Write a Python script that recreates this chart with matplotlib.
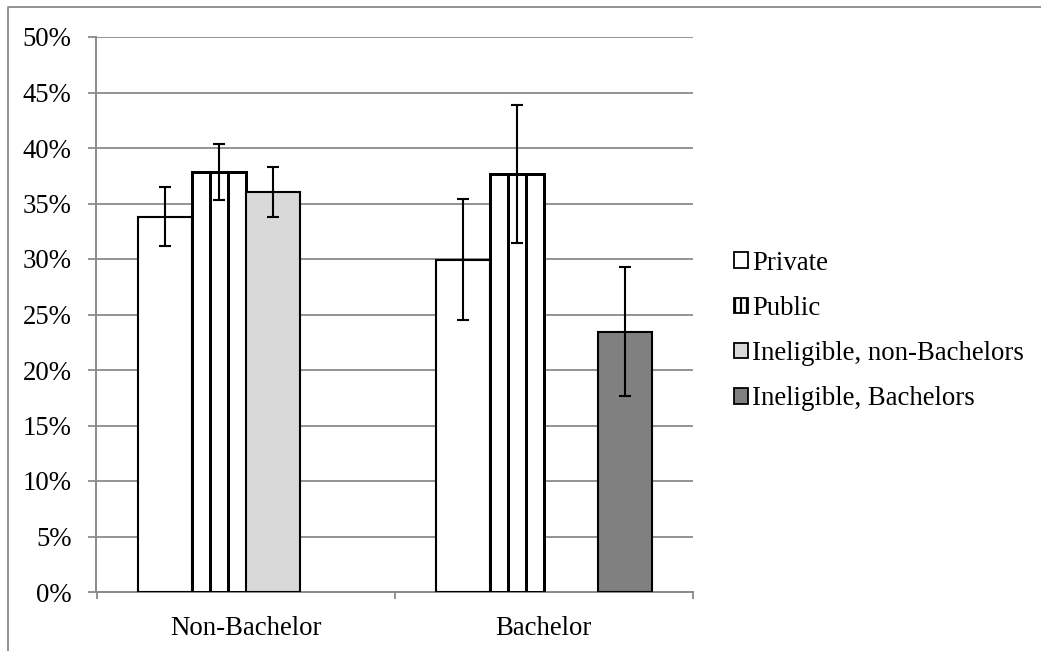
import numpy as np
import matplotlib
matplotlib.use("Agg")
import matplotlib.pyplot as plt
from matplotlib.patches import Patch
from matplotlib.lines import Line2D

# ---- data (percent) ----
categories = ["Non-Bachelor", "Bachelor"]
series_names = ["Private", "Public", "Ineligible, non-Bachelors", "Ineligible, Bachelors"]
private = [33.8, 29.95]
private_err = [2.65, 5.45]
public = [37.85, 37.65]
public_err = [2.5, 6.2]
inel_nonbach = [36.0, np.nan]
inel_nonbach_err = [2.25, np.nan]
inel_bach = [np.nan, 23.45]
inel_bach_err = [np.nan, 5.8]
y_ticks = [0, 5, 10, 15, 20, 25, 30, 35, 40, 45, 50]
y_ticklabels = [f"{v}%" for v in y_ticks]

plt.rcParams['font.family'] = ['Liberation Serif', 'DejaVu Serif']
plt.rcParams['hatch.linewidth'] = 1.5

DPI = 108
fig = plt.figure(figsize=(1041 / DPI, 651 / DPI), dpi=DPI)
W, H = 1041, 651
ax = fig.add_axes([96.5 / W, 1 - 592 / H, (693 - 96.5) / W, 555 / H])

GRID = "#8a8a8a"
FS = 17.8
x = np.arange(len(categories))
w = 54 / 298.0
offsets = np.array([-1.5, -0.5, 0.5, 1.5]) * w

err_kw = dict(fmt="none", ecolor="black", elinewidth=1.4, capsize=4.2, capthick=1.4, zorder=5)

# Private
ax.bar(x + offsets[0], private, width=w, color="white", edgecolor="black", linewidth=1.4, zorder=3)
ax.errorbar(x + offsets[0], private, yerr=private_err, **err_kw)

# Public: drawn as three vertical stripes per bar
for j in (-1, 0, 1):
    ax.bar(x + offsets[1] + j * w / 3, public, width=w / 3, color="white",
           edgecolor="black", linewidth=2.0, zorder=3)
ax.errorbar(x + offsets[1], public, yerr=public_err, **err_kw)

# Ineligible, non-Bachelors
ax.bar(x + offsets[2], inel_nonbach, width=w, color="#d9d9d9", edgecolor="black", linewidth=1.4, zorder=3)
ax.errorbar(x + offsets[2], inel_nonbach, yerr=inel_nonbach_err, **err_kw)

# Ineligible, Bachelors
ax.bar(x + offsets[3], inel_bach, width=w, color="#808080", edgecolor="black", linewidth=1.4, zorder=3)
ax.errorbar(x + offsets[3], inel_bach, yerr=inel_bach_err, **err_kw)

ax.set_xlim(-0.5, len(categories) - 0.5)
ax.set_ylim(0, 50)
ax.set_yticks(y_ticks)
ax.set_yticklabels(y_ticklabels)
ax.set_xticks(x)
ax.set_xticklabels(categories)
ax.set_xticks([-0.5, 0.5, 1.5], minor=True)

for s in ("top", "right"):
    ax.spines[s].set_visible(False)
for s in ("left", "bottom"):
    ax.spines[s].set_color(GRID)
    ax.spines[s].set_linewidth(1.3)

ax.tick_params(axis="y", which="major", length=5.5, width=1.2, color=GRID,
               labelsize=FS, pad=11)
ax.tick_params(axis="x", which="major", length=0, labelsize=FS, pad=16)
ax.tick_params(axis="x", which="minor", length=4.5, width=1.2, color=GRID)

ax.yaxis.grid(True, color=GRID, linewidth=1.2, zorder=0)
ax.set_axisbelow(True)
for gl in ax.yaxis.get_gridlines()[:1]:
    gl.set_visible(False)

# legend
handles = [
    Patch(facecolor="white", edgecolor="black", linewidth=1.2),
    Patch(facecolor="white", edgecolor="black", linewidth=1.2, hatch="|||"),
    Patch(facecolor="#d9d9d9", edgecolor="black", linewidth=1.2),
    Patch(facecolor="#808080", edgecolor="black", linewidth=1.2),
]
fig.legend(handles, series_names, loc="center left",
           bbox_to_anchor=(734 / W, 1 - 331 / H), frameon=False, fontsize=FS,
           handlelength=0.52, handleheight=0.52, handletextpad=0.17,
           labelspacing=0.76, borderpad=0, borderaxespad=0)

# outer chart border (top and left visible)
fig.add_artist(Line2D([8 / W, 8 / W, 1.0], [0.0, 1 - 7 / H, 1 - 7 / H],
                      transform=fig.transFigure, color=GRID, linewidth=1.2))

fig.savefig("out.png", dpi=DPI)
